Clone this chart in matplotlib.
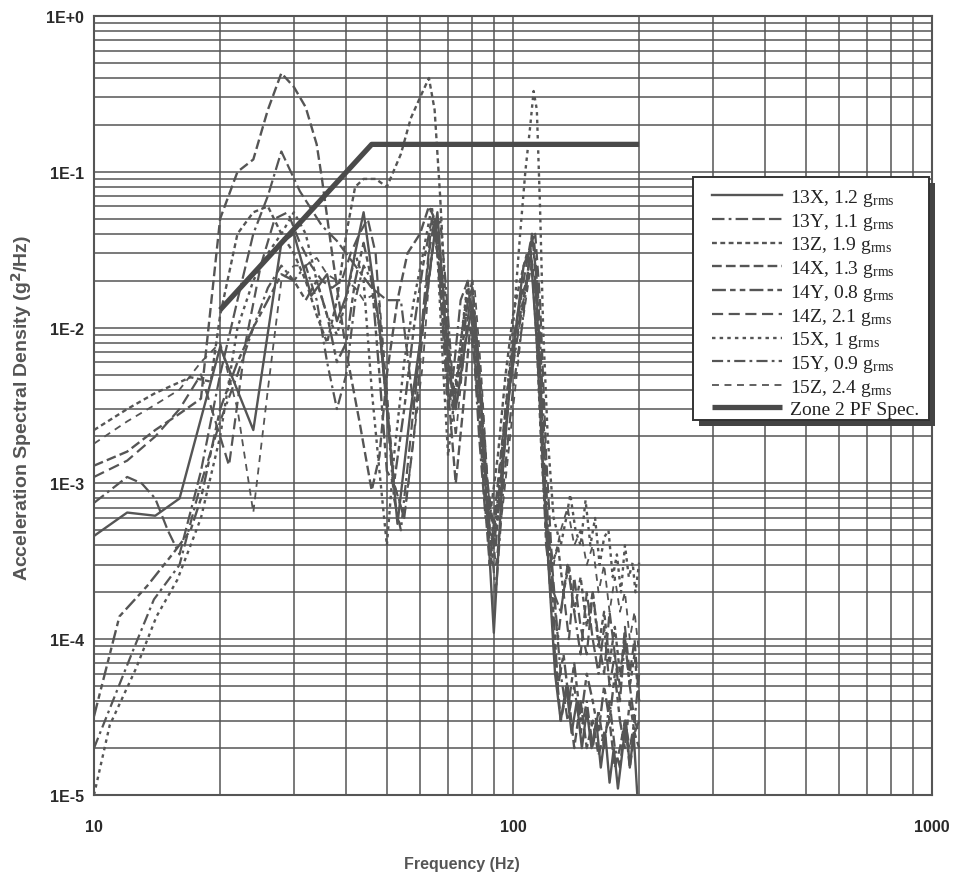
import matplotlib
matplotlib.use("Agg")
import matplotlib.pyplot as plt
from matplotlib.patches import Rectangle
import numpy as np

plt.rcParams['lines.scale_dashes'] = False
plt.rcParams['mathtext.fontset'] = 'custom'
plt.rcParams['mathtext.rm'] = 'Liberation Serif'
plt.rcParams['mathtext.it'] = 'Liberation Serif:italic'

# ---------------- data ----------------
f_13x = [10, 12, 14, 16, 20, 24, 28, 30, 33, 36, 38, 40, 44, 48, 53, 57, 62, 66, 70, 73, 77, 80, 84, 90, 95, 100, 106, 110, 114, 118, 122, 126, 130, 134, 138, 142, 146, 150, 154, 158, 162, 166, 170, 174, 178, 182, 186, 190, 194, 198]
v_13x = [4.6e-4, 6.5e-4, 6.2e-4, 8.0e-4, 7.5e-3, 2.2e-3, 3.5e-2, 4.0e-2, 1.6e-2, 2.2e-2, 1.1e-2, 1.6e-2, 5.5e-2, 1.0e-2, 5.5e-4, 3e-3, 1.5e-2, 5.5e-2, 6e-3, 3e-3, 8e-3, 1.4e-2, 3e-3, 1.1e-4, 1.5e-3, 7e-3, 2.5e-2, 3.2e-2, 8e-3, 1.2e-3, 2.5e-4, 6e-5, 3e-5, 5e-5, 2.5e-5, 4e-5, 2e-5, 3.5e-5, 2e-5, 3e-5, 1.5e-5, 2.5e-5, 1.2e-5, 2e-5, 1.1e-5, 1.8e-5, 3e-5, 1.5e-5, 2.5e-5, 1e-5]

f_13y = [10, 12, 13, 14, 15, 16, 18, 20, 22, 24, 26, 28, 31, 35, 38, 42, 46, 50, 54, 58, 62, 64, 66, 68, 70, 72, 75, 78, 80, 83, 86, 90, 94, 98, 102, 106, 110, 113, 116, 120, 125, 130, 135, 140, 145, 150, 155, 160, 165, 170, 175, 180, 185, 190, 195, 200]
v_13y = [7.5e-4, 1.1e-3, 1.0e-3, 8e-4, 5e-4, 3.5e-4, 1.2e-3, 5e-3, 1.5e-2, 4e-2, 7e-2, 1.35e-1, 7.5e-2, 4.5e-2, 3.6e-2, 2.5e-2, 1.8e-2, 1.5e-2, 1.5e-2, 3e-3, 2e-2, 5e-2, 3e-2, 1e-2, 3e-3, 5e-3, 1.5e-2, 2e-2, 1e-2, 2e-3, 6e-4, 4e-4, 1e-3, 4e-3, 8e-3, 1.5e-2, 3e-2, 2e-2, 5e-3, 6e-4, 2e-4, 1.5e-4, 3e-4, 1.5e-4, 8e-5, 2e-4, 1e-4, 6e-5, 1.2e-4, 5e-5, 8e-5, 4e-5, 1e-4, 5e-5, 3e-5, 6e-5]

f_13z = [10, 12, 14, 17, 19, 20, 22, 24, 26, 28, 30, 32, 34, 36, 38, 40, 42, 44, 47, 50, 54, 57, 60, 63, 65, 67, 69, 72, 75, 78, 80, 82, 85, 88, 92, 96, 100, 104, 108, 111, 114, 117, 120, 124, 128, 132, 136, 140, 145, 150, 155, 160, 165, 170, 175, 180, 185, 190, 195, 200]
v_13z = [2.2e-3, 3e-3, 3.8e-3, 4.8e-3, 4.5e-3, 1.2e-2, 4e-2, 5.5e-2, 6e-2, 4e-2, 3e-2, 2e-2, 1.2e-2, 8e-3, 1.5e-2, 4e-2, 8e-2, 9e-2, 9e-2, 8e-2, 1.3e-1, 2.2e-1, 3e-1, 4e-1, 2.5e-1, 7e-2, 1.5e-2, 3e-3, 8e-3, 1.8e-2, 1.2e-2, 4e-3, 1.5e-3, 6e-4, 1.5e-3, 5e-3, 1.2e-2, 2e-2, 3e-2, 2.5e-2, 8e-3, 1.5e-3, 5e-4, 3e-4, 4e-4, 2e-4, 3e-4, 1.5e-4, 2.5e-4, 1.2e-4, 2e-4, 9e-5, 1.5e-4, 7e-5, 1.2e-4, 6e-5, 1e-4, 5e-5, 8e-5, 4e-5]

f_14x = [10, 12, 14, 16, 18, 20, 22, 24, 26, 28, 30, 32, 34, 35, 37, 40, 43, 46, 48, 50, 53, 56, 60, 63, 65, 67, 70, 73, 76, 79, 82, 85, 88, 92, 96, 100, 104, 108, 111, 114, 117, 120, 125, 130, 135, 140, 145, 150, 155, 160, 165, 170, 175, 180, 185, 190, 195, 200]
v_14x = [1.3e-3, 1.6e-3, 2.2e-3, 2.8e-3, 3.5e-3, 5e-2, 1e-1, 1.2e-1, 2.5e-1, 4.3e-1, 3.5e-1, 2.6e-1, 1.5e-1, 9e-2, 3e-2, 7e-3, 2.5e-3, 9e-4, 1.5e-3, 5e-3, 1.5e-2, 3e-2, 4e-2, 6e-2, 5e-2, 2e-2, 4e-3, 1e-3, 3e-3, 1e-2, 5e-3, 1e-3, 3e-4, 1e-3, 3e-3, 8e-3, 1.5e-2, 2e-2, 4e-2, 2e-2, 3e-3, 5e-4, 1e-4, 3e-5, 5e-5, 2e-5, 4e-5, 2e-5, 3e-5, 1.8e-5, 2.5e-5, 3e-5, 1.5e-5, 2e-5, 3e-5, 1.5e-5, 2.5e-5, 2e-5]

f_14y = [10, 11.5, 13.4, 15.5, 17, 18, 20, 22, 24, 26, 28, 30, 32, 34, 36, 38, 40, 42, 44, 46, 48, 50, 52, 55, 58, 61, 64, 66, 68, 70, 72, 75, 78, 80, 82, 85, 88, 91, 95, 100, 104, 108, 111, 114, 117, 120, 124, 128, 132, 136, 140, 145, 150, 155, 160, 165, 170, 175, 180, 185, 190, 195, 200]
v_14y = [3.2e-5, 1.4e-4, 2.2e-4, 3.6e-4, 5e-4, 8e-4, 3e-3, 6e-3, 1e-2, 1.5e-2, 2.2e-2, 2e-2, 1.5e-2, 2e-2, 1.2e-2, 6e-3, 8e-3, 2e-2, 3.5e-2, 2e-2, 5e-3, 1.2e-3, 1e-3, 3e-3, 1e-2, 2.5e-2, 5e-2, 4e-2, 1.5e-2, 4e-3, 3e-3, 6e-3, 1.5e-2, 1.8e-2, 8e-3, 2e-3, 5e-4, 4e-4, 2e-3, 6e-3, 1.2e-2, 2e-2, 2.5e-2, 1.5e-2, 2e-3, 4e-4, 2e-4, 5e-5, 8e-5, 4e-5, 7e-5, 3e-5, 6e-5, 4e-5, 2.5e-5, 5e-5, 3e-5, 6e-5, 3e-5, 2e-5, 4e-5, 2.5e-5, 3e-5]

f_14z = [10, 12, 14, 16, 18, 20, 21, 23, 25, 27, 29, 31, 33, 35, 37, 39, 41, 43, 45, 47, 49, 52, 55, 58, 61, 63, 65, 67, 70, 73, 76, 79, 81, 84, 87, 90, 94, 98, 102, 106, 110, 113, 116, 120, 124, 128, 132, 136, 140, 145, 150, 155, 160, 165, 170, 175, 180, 185, 190, 195, 200]
v_14z = [1.1e-3, 1.4e-3, 2e-3, 3e-3, 5e-3, 2e-3, 1.3e-3, 8e-3, 2.5e-2, 5e-2, 5.5e-2, 3.5e-2, 2.5e-2, 2e-2, 1.8e-2, 2e-2, 3e-2, 4e-2, 5e-2, 3e-2, 6e-3, 1e-3, 6e-4, 2e-3, 1e-2, 3e-2, 5e-2, 3e-2, 8e-3, 3e-3, 6e-3, 1.5e-2, 1.2e-2, 4e-3, 1e-3, 5e-4, 1.2e-3, 4e-3, 1e-2, 2e-2, 3.5e-2, 4e-2, 1.5e-2, 1.5e-3, 3e-4, 1e-4, 2e-4, 1e-4, 2.5e-4, 1.2e-4, 8e-5, 2e-4, 1e-4, 6e-5, 1.5e-4, 8e-5, 5e-5, 1.2e-4, 6e-5, 1e-4, 4e-5]

f_15x = [10, 10.9, 12.6, 14.1, 15.8, 17, 18, 20, 22, 24, 26, 28, 30, 32, 34, 36, 38, 40, 42, 44, 46, 48, 50, 52, 55, 58, 61, 64, 66, 68, 70, 72, 75, 78, 80, 83, 86, 89, 92, 96, 100, 104, 107, 110, 112, 114, 116, 118, 121, 125, 130, 134, 137, 141, 145, 149, 153, 157, 161, 165, 169, 173, 177, 181, 185, 189, 193, 196, 200]
v_15x = [1e-5, 2.8e-5, 6.5e-5, 1.4e-4, 2.4e-4, 4e-4, 6e-4, 2e-3, 1e-2, 2e-2, 3e-2, 4e-2, 5.5e-2, 4e-2, 2e-2, 1.2e-2, 9e-3, 1.5e-2, 3e-2, 2e-2, 4e-3, 1.2e-3, 4e-4, 1.5e-3, 6e-3, 1.5e-2, 3e-2, 6e-2, 3e-2, 6e-3, 1.5e-3, 3e-3, 8e-3, 2e-2, 1e-2, 3e-3, 8e-4, 3e-4, 8e-4, 3e-3, 1e-2, 4e-2, 1e-1, 2e-1, 3.3e-1, 2.5e-1, 6e-2, 1e-2, 2e-3, 6e-4, 4e-4, 6e-4, 8.5e-4, 5e-4, 4e-4, 7.8e-4, 4e-4, 6e-4, 3e-4, 4.5e-4, 5e-4, 2.5e-4, 3.5e-4, 2e-4, 4e-4, 2.5e-4, 3.1e-4, 2e-4, 3.1e-4]

f_15y = [10, 12.4, 13.9, 16, 18, 20, 22, 24, 26, 28, 30, 32, 34, 36, 38, 40, 42, 44, 46, 48, 50, 52, 54, 57, 60, 63, 65, 67, 69, 72, 75, 78, 80, 82, 85, 88, 91, 95, 100, 105, 109, 112, 115, 118, 121, 125, 130, 135, 140, 145, 150, 155, 160, 165, 170, 175, 180, 185, 190, 195, 200]
v_15y = [2e-5, 8.5e-5, 1.8e-4, 3e-4, 1e-3, 2.5e-3, 5e-3, 1e-2, 1.8e-2, 2.5e-2, 2e-2, 2.5e-2, 1.5e-2, 6e-3, 3e-3, 5e-3, 1.5e-2, 2.5e-2, 2e-2, 1e-2, 3e-3, 8e-4, 5e-4, 2e-3, 8e-3, 2e-2, 4e-2, 5e-2, 2e-2, 4e-3, 6e-3, 1.5e-2, 2e-2, 8e-3, 2e-3, 5e-4, 2e-4, 1e-3, 4e-3, 1e-2, 2.5e-2, 4e-2, 1.5e-2, 3e-3, 6e-4, 2e-4, 6e-5, 3e-5, 5e-5, 2.5e-5, 4e-5, 2e-5, 3.5e-5, 2e-5, 4e-5, 2e-5, 1.5e-5, 3e-5, 2e-5, 3e-5, 2.5e-5]

f_15z = [10, 12, 14, 16, 18, 20, 22, 24, 26, 28, 30, 32, 34, 36, 38, 40, 42, 44, 46, 48, 50, 52, 55, 58, 61, 63, 65, 67, 70, 73, 76, 79, 81, 84, 87, 91, 95, 100, 105, 109, 112, 115, 118, 121, 125, 130, 135, 140, 145, 150, 155, 160, 165, 170, 175, 180, 185, 190, 195, 200]
v_15z = [1.8e-3, 2.5e-3, 3.2e-3, 4e-3, 6e-3, 8e-3, 3e-3, 6.5e-4, 4e-3, 2e-2, 2.5e-2, 2.5e-2, 2.8e-2, 2.2e-2, 2e-2, 2e-2, 1.8e-2, 1.5e-2, 1.6e-2, 1.5e-2, 4e-3, 1e-3, 6e-4, 2e-3, 6e-3, 2e-2, 4e-2, 2.5e-2, 6e-3, 2e-3, 6e-3, 1.6e-2, 1.8e-2, 5e-3, 1e-3, 3e-4, 8e-4, 3e-3, 1e-2, 2e-2, 3e-2, 1e-2, 2e-3, 5e-4, 3e-4, 5e-4, 7e-4, 4e-4, 5e-4, 3e-4, 4e-4, 2e-4, 3e-4, 1.5e-4, 2.5e-4, 1.5e-4, 2e-4, 1e-4, 1.5e-4, 8e-5]

f_spec = [20, 46, 200]
v_spec = [0.013, 0.15, 0.15]

series_labels = ['13X, 1.2 g', '13Y, 1.1 g', '13Z, 1.9 g', '14X, 1.3 g', '14Y, 0.8 g',
                 '14Z, 2.1 g', '15X, 1 g', '15Y, 0.9 g', '15Z, 2.4 g']
spec_label = 'Zone 2 PF Spec.'
y_ticklabels = ['1E-5', '1E-4', '1E-3', '1E-2', '1E-1', '1E+0']
x_ticklabels = ['10', '100', '1000']

# ---------------- styles ----------------
C = '#555555'
styles = [
    dict(ls='-', lw=1.7),
    dict(ls=(0, (9, 3, 2, 3, 9, 3, 9, 3)), lw=1.6),
    dict(ls=(0, (3.5, 2.5)), lw=1.7),
    dict(ls=(0, (7, 3)), lw=1.7),
    dict(ls=(0, (10, 3, 4, 3, 4, 3)), lw=1.7),
    dict(ls=(0, (8, 4)), lw=1.6),
    dict(ls=(0, (2.5, 3)), lw=1.7),
    dict(ls=(0, (8, 3, 2, 3)), lw=1.6),
    dict(ls=(0, (5, 4)), lw=1.3),
]

W, H = 956, 879
L, R, T, B = 94, 932, 17, 796
fig = plt.figure(figsize=(W/100, H/100), dpi=100)
ax = fig.add_axes([L/W, 1-B/H, (R-L)/W, (B-T)/H])

freqs = [f_13x, f_13y, f_13z, f_14x, f_14y, f_14z, f_15x, f_15y, f_15z]
vals = [v_13x, v_13y, v_13z, v_14x, v_14y, v_14z, v_15x, v_15y, v_15z]
handles = []
for f, v, lab, st in zip(freqs, vals, series_labels, styles):
    h, = ax.plot(f, v, color=C, label=lab + r'$_{\mathrm{rms}}$', **st)
    handles.append(h)
hs, = ax.plot(f_spec, v_spec, color='#4a4a4a', lw=3.8, solid_capstyle='butt', label=spec_label)
handles.append(hs)

ax.set_xscale('log')
ax.set_yscale('log')
ax.set_xlim(10, 1000)
ax.set_ylim(1e-5, 1)
ax.grid(True, which='both', color='#555555', lw=1.1)
ax.set_axisbelow(True)
for s in ax.spines.values():
    s.set_color('#555555')
    s.set_linewidth(1.5)

ax.set_xticks([10, 100, 1000])
ax.set_xticklabels(x_ticklabels)
ax.set_yticks([1e-5, 1e-4, 1e-3, 1e-2, 1e-1, 1])
ax.set_yticklabels(y_ticklabels)
ax.tick_params(which='both', length=0)
ax.tick_params(axis='x', pad=17)
ax.tick_params(axis='y', pad=7)
for t in ax.get_xticklabels() + ax.get_yticklabels():
    t.set_fontfamily('Liberation Sans')
    t.set_fontweight('bold')
    t.set_fontsize(11.5)
    t.set_color('#2a2a2a')

fig.text(462/W, 1-865/H, 'Frequency (Hz)', ha='center', va='center',
         fontfamily='Liberation Sans', fontweight='bold', fontsize=11.5, color='#555555')
fig.text(22/W, 1-408/H, r'Acceleration Spectral Density (g$^{\mathbf{2}}$/Hz)', ha='center', va='center',
         rotation=90, fontfamily='Liberation Sans', fontweight='bold', fontsize=14, color='#555555')

# legend frame + shadow drawn in pixel coordinates
bx0, by0, bx1, by1 = 693, 178, 929, 421
sh = Rectangle((bx0 + 6, H - by1 - 6), bx1 - bx0, by1 - by0, transform=None,
               facecolor='#444444', edgecolor='none', zorder=4.8, clip_on=False)
fr = Rectangle((bx0, H - by1), bx1 - bx0, by1 - by0, transform=None,
               facecolor='white', edgecolor='#333333', lw=1.4, zorder=4.9, clip_on=False)
ax.add_artist(sh)
ax.add_artist(fr)

leg = ax.legend(handles=handles, loc='upper left', bbox_to_anchor=(712/W, 1-188/H),
                bbox_transform=fig.transFigure,
                borderaxespad=0, frameon=False, handlelength=3.6,
                handletextpad=0.4, labelspacing=0.14, borderpad=0,
                prop={'family': 'Liberation Serif', 'size': 14})
leg.set_zorder(5)
for t in leg.get_texts():
    t.set_color('#222222')

fig.savefig('out.png', dpi=100, facecolor='white')
